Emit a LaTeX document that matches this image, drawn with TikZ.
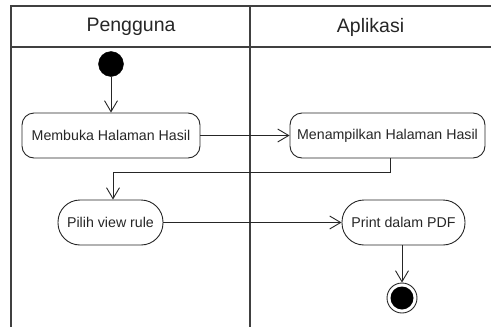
\documentclass[tikz,border=0pt]{standalone}
\usepackage{fontspec}
\setmainfont{Liberation Sans}
\usetikzlibrary{arrows.meta,positioning}
\begin{document}
\begin{tikzpicture}[x=1pt,y=-1pt,
  lane/.style={draw=black!75,line width=1.4pt},
  act/.style={draw=black!85,line width=0.9pt,rounded corners=12pt,
    minimum height=45pt,inner sep=0pt,font=\fontsize{14.2}{16}\selectfont,text=black!85},
  pill/.style={act,rounded corners=22pt},
  flow/.style={draw=black!85,line width=0.9pt,
    -{Straight Barb[length=11pt,width=13pt,line width=0.9pt]}},
  startnode/.style={circle,fill=black,draw=black,minimum size=25pt,inner sep=0pt},
  endnode/.style={circle,draw=black!85,line width=0.9pt,minimum size=30pt,inner sep=0pt,
    path picture={\fill[black] (path picture bounding box.center) circle (11.5pt);}},
  head/.style={font=\fontsize{19.5}{21}\selectfont,text=black!85}
]
\useasboundingbox (0,0) rectangle (491,327);

% swimlane frame
\draw[lane] (11,327) -- (11,6) -- (491,6);
\draw[lane] (11,47) -- (491,47);
\draw[lane] (250,6) -- (250,327);
\node[head] (lanea) at (131,27) {Pengguna};
\node[head] (laneb) at (370.5,27) {Aplikasi};

% activities
\node[startnode] (start) at (111,64) {};
\node[act,minimum width=178pt] (buka) at (111,135.5) {Membuka Halaman Hasil};
\node[act,minimum width=195pt] (tampil) at (387.5,135.5) {Menampilkan Halaman Hasil};
\node[pill,minimum width=105pt] (pilih) at (110.5,222.5) {Pilih view rule};
\node[pill,minimum width=123pt] (print) at (403.5,222.5) {Print dalam PDF};
\node[endnode] (end) at (402,298) {};

% control flow
\draw[flow] (start) -- (buka);
\draw[flow] (buka) -- (tampil);
\draw[flow] (tampil.south -| 390,0) -- (390,172) -- (113,172) -- (pilih.north -| 113,0);
\draw[flow] (pilih) -- (print);
\draw[flow] (print.south -| end) -- (end);
\end{tikzpicture}
\end{document}
